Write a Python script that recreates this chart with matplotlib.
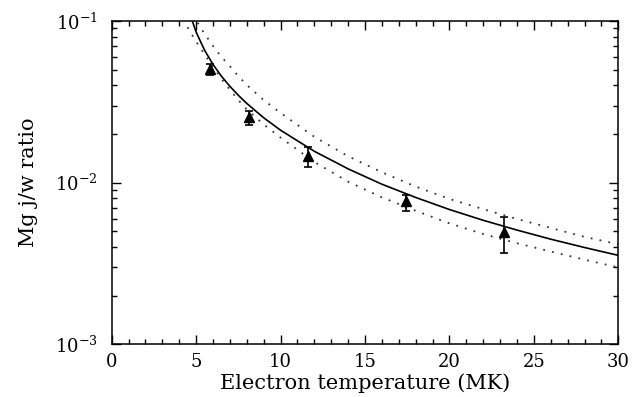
import matplotlib
matplotlib.use("Agg")
import matplotlib.pyplot as plt
from matplotlib.ticker import FixedLocator, LogLocator, NullFormatter, FixedFormatter

# observed Mg j/w ratios with error bars
temp_obs = [5.82, 8.15, 11.65, 17.44, 23.25]
ratio_obs = [0.0503, 0.0256, 0.0146, 0.00767, 0.00498]
ratio_hi = [0.0542, 0.0279, 0.0166, 0.00838, 0.00616]
ratio_lo = [0.0466, 0.0228, 0.01245, 0.00671, 0.00366]

# theoretical curve and its upper/lower bounds
temp_fit = [4.25, 4.5, 5.0, 5.5, 6.0, 6.5, 7.0, 7.5, 8.0, 9.0, 10.0, 12.0, 14.0,
            16.0, 18.0, 20.0, 22.0, 24.0, 26.0, 28.0, 30.0]
ratio_fit = [0.1528, 0.1211, 0.0853, 0.0659, 0.0538, 0.0455, 0.0394, 0.0347,
             0.0309, 0.0252, 0.0211, 0.01563, 0.01217, 0.00978, 0.0081, 0.00682,
             0.00585, 0.00509, 0.00447, 0.00397, 0.00355]

temp_band = [4.0, 4.5, 5.0, 5.5, 6.0, 6.5, 7.0, 7.5, 8.0, 9.0, 10.0, 12.0, 14.0,
             16.0, 18.0, 20.0, 22.0, 24.0, 26.0, 28.0, 30.0]
ratio_upper = [0.16, 0.125, 0.101, 0.0833, 0.070, 0.0599, 0.0525, 0.0456, 0.0402,
               0.0324, 0.0270, 0.0192, 0.01456, 0.01159, 0.00946, 0.00793,
               0.00686, 0.00596, 0.00525, 0.00462, 0.00416]
ratio_lower = [0.115, 0.091, 0.0745, 0.062, 0.052, 0.0438, 0.0375, 0.0324, 0.0284,
               0.0229, 0.0190, 0.01342, 0.01014, 0.00811, 0.0067, 0.0056, 0.00481,
               0.00422, 0.00375, 0.00334, 0.00299]

x_ticks = [0, 5, 10, 15, 20, 25, 30]
y_ticks = [1e-3, 1e-2, 1e-1]
y_ticklabels = [r"$10^{-3}$", r"$10^{-2}$", r"$10^{-1}$"]

plt.rcParams["font.family"] = "DejaVu Serif"
plt.rcParams["mathtext.fontset"] = "dejavuserif"

fig = plt.figure(figsize=(6.41, 3.97), dpi=100)
ax = fig.add_axes([0.1743, 0.1327, 0.7903, 0.8144])

ax.plot(temp_fit, ratio_fit, color="black", lw=1.2)
ax.plot(temp_band, ratio_upper, color="#333333", lw=1.3, linestyle=(0, (1, 4)))
ax.plot(temp_band, ratio_lower, color="#333333", lw=1.3, linestyle=(0, (1, 4)))

yerr = [[o - lo for o, lo in zip(ratio_obs, ratio_lo)],
        [hi - o for o, hi in zip(ratio_obs, ratio_hi)]]
ax.errorbar(temp_obs, ratio_obs, yerr=yerr, fmt="^", color="black",
            markersize=6.5, capsize=2.8, elinewidth=1.2, capthick=1.2)

ax.set_yscale("log")
ax.set_xlim(0, 30)
ax.set_ylim(1e-3, 1e-1)

ax.xaxis.set_major_locator(FixedLocator(x_ticks))
ax.xaxis.set_minor_locator(FixedLocator(range(0, 31)))
ax.yaxis.set_major_locator(FixedLocator(y_ticks))
ax.yaxis.set_major_formatter(FixedFormatter(y_ticklabels))
ax.yaxis.set_minor_locator(LogLocator(base=10, subs=range(2, 10)))
ax.yaxis.set_minor_formatter(NullFormatter())

ax.tick_params(which="both", direction="in", top=True, right=True,
               width=1.0, labelsize=13)
ax.tick_params(which="major", length=6.5)
ax.tick_params(which="minor", length=3.6)
ax.tick_params(axis="y", pad=10)
ax.tick_params(axis="x", pad=6)
for s in ax.spines.values():
    s.set_linewidth(1.1)

ax.set_xlabel("Electron temperature (MK)", fontsize=15, labelpad=2)
ax.set_ylabel("Mg j/w ratio", fontsize=15, labelpad=12)

fig.savefig("out.png", dpi=100)
